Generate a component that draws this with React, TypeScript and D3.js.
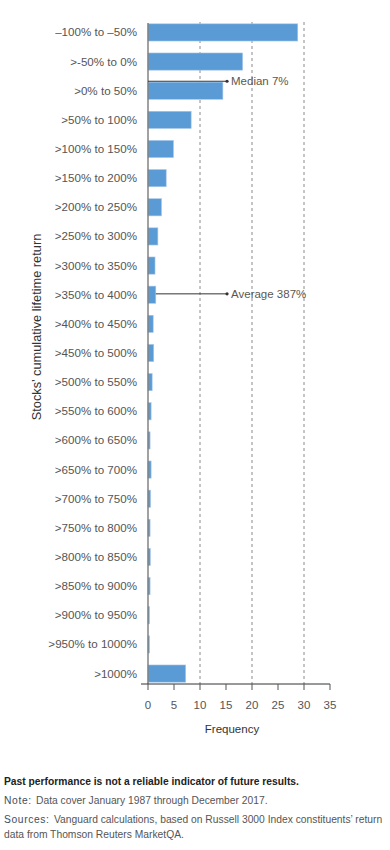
import React from "react";
import * as d3 from "d3";

// bins of cumulative lifetime return
const categories = [
  "–100% to –50%",
  ">-50% to 0%",
  ">0% to 50%",
  ">50% to 100%",
  ">100% to 150%",
  ">150% to 200%",
  ">200% to 250%",
  ">250% to 300%",
  ">300% to 350%",
  ">350% to 400%",
  ">400% to 450%",
  ">450% to 500%",
  ">500% to 550%",
  ">550% to 600%",
  ">600% to 650%",
  ">650% to 700%",
  ">700% to 750%",
  ">750% to 800%",
  ">800% to 850%",
  ">850% to 900%",
  ">900% to 950%",
  ">950% to 1000%",
  ">1000%",
];

// frequency (%)
const frequency = [
  28.8, 18.2, 14.4, 8.3, 4.9, 3.5, 2.6, 1.9, 1.35, 1.5, 1.0, 1.1, 0.8, 0.6,
  0.4, 0.6, 0.5, 0.4, 0.45, 0.4, 0.3, 0.3, 7.25,
];

const xTicks = [0, 5, 10, 15, 20, 25, 30, 35];
const gridTicks = [10, 20, 30];

// annotations: label, bin, where the pointer ends (frequency units)
const annotations = [
  { label: "Median 7%", bin: ">0% to 50%", end: 15.2, offset: -0.55 },
  { label: "Average 387%", bin: ">350% to 400%", end: 15.2, offset: -0.05 },
];

const footBold = "Past performance is not a reliable indicator of future results.";
const footNote = ["Note:", "Data cover January 1987 through December 2017."];
const footSources = [
  "Sources:",
  "Vanguard calculations, based on Russell 3000 Index constituents’ return",
  "data from Thomson Reuters MarketQA.",
];

const W = 390;
const H = 850;
const font = "'Liberation Sans', Arial, sans-serif";
const squeeze = 0.895; // condensed look for the notes

const Foot = ({ x, y, fill, bold, spacing, children }: any) => (
  <g transform={`translate(${x} ${y}) scale(${squeeze} 1)`}>
    <text
      fontSize={11.5}
      fill={fill}
      fontWeight={bold ? "bold" : "normal"}
      letterSpacing={spacing || 0}
    >
      {children}
    </text>
  </g>
);

const App = () => {
  const x = d3.scaleLinear().domain([0, 35]).range([148, 330]);
  const y = d3
    .scaleBand<string>()
    .domain(categories)
    .range([18, 688])
    .paddingInner(0.41)
    .paddingOuter(0.2);
  const axisY = 684;

  return (
    <svg
      width={W}
      height={H}
      style={{ position: "absolute", left: 0, top: 0, background: "#fff" }}
      fontFamily={font}
    >
      {/* dashed grid */}
      {gridTicks.map((t) => (
        <line
          key={t}
          x1={x(t)}
          x2={x(t)}
          y1={22}
          y2={axisY}
          stroke="#8a8a8a"
          strokeWidth={1}
          strokeDasharray="3,3"
        />
      ))}

      {/* bars */}
      {categories.map((c, i) => (
        <rect
          key={c}
          x={x(0)}
          y={y(c)}
          width={x(frequency[i]) - x(0)}
          height={y.bandwidth()}
          fill="#5b9bd5"
          stroke="#a9c8ea"
          strokeWidth={0.6}
        />
      ))}

      {/* vertical axis */}
      <line x1={x(0)} x2={x(0)} y1={23} y2={axisY} stroke="#7a7a7a" strokeWidth={1.4} />

      {/* category labels */}
      {categories.map((c) => (
        <text
          key={c}
          x={137}
          y={(y(c) as number) + y.bandwidth() / 2}
          dy="0.35em"
          textAnchor="end"
          fontSize={11.6}
          fill="#555"
        >
          {c}
        </text>
      ))}

      {/* annotations */}
      {annotations.map((a) => {
        const i = categories.indexOf(a.bin);
        const yy = (y(a.bin) as number) + y.bandwidth() / 2 + a.offset * y.bandwidth();
        const start = a.label.startsWith("Median") ? x(0) : x(frequency[i]);
        return (
          <g key={a.label}>
            <line x1={start} x2={x(a.end)} y1={yy} y2={yy} stroke="#333" strokeWidth={1} />
            <circle cx={x(a.end)} cy={yy} r={1.6} fill="#333" />
            <text x={x(a.end) + 4} y={yy} dy="0.35em" fontSize={11.5} fill="#5e5750">
              {a.label}
            </text>
          </g>
        );
      })}

      {/* x axis */}
      <line x1={141} x2={x(35)} y1={axisY} y2={axisY} stroke="#333" strokeWidth={1} />
      {xTicks.map((t) => (
        <g key={t}>
          <line x1={x(t)} x2={x(t)} y1={axisY} y2={axisY + 6} stroke="#555" strokeWidth={1} />
          <text x={x(t)} y={axisY + 25} textAnchor="middle" fontSize={11.5} fill="#555">
            {t}
          </text>
        </g>
      ))}
      <text x={232} y={733} textAnchor="middle" fontSize={11.5} fill="#333">
        Frequency
      </text>

      {/* y title */}
      <text
        transform="translate(41 327) rotate(-90)"
        textAnchor="middle"
        fontSize={12.8}
        fill="#333"
      >
        Stocks’ cumulative lifetime return
      </text>

      {/* footnotes */}
      <Foot x={4} y={785} fill="#222" bold>
        {footBold}
      </Foot>
      <Foot x={4} y={804} fill="#3e4e60" spacing={0.7}>
        {footNote[0]}
      </Foot>
      <Foot x={36} y={804} fill="#555">
        {footNote[1]}
      </Foot>
      <Foot x={4} y={823} fill="#3e4e60" spacing={0.7}>
        {footSources[0]}
      </Foot>
      <Foot x={54} y={823} fill="#555">
        {footSources[1]}
      </Foot>
      <Foot x={4} y={838} fill="#555">
        {footSources[2]}
      </Foot>
    </svg>
  );
};

export default App;
